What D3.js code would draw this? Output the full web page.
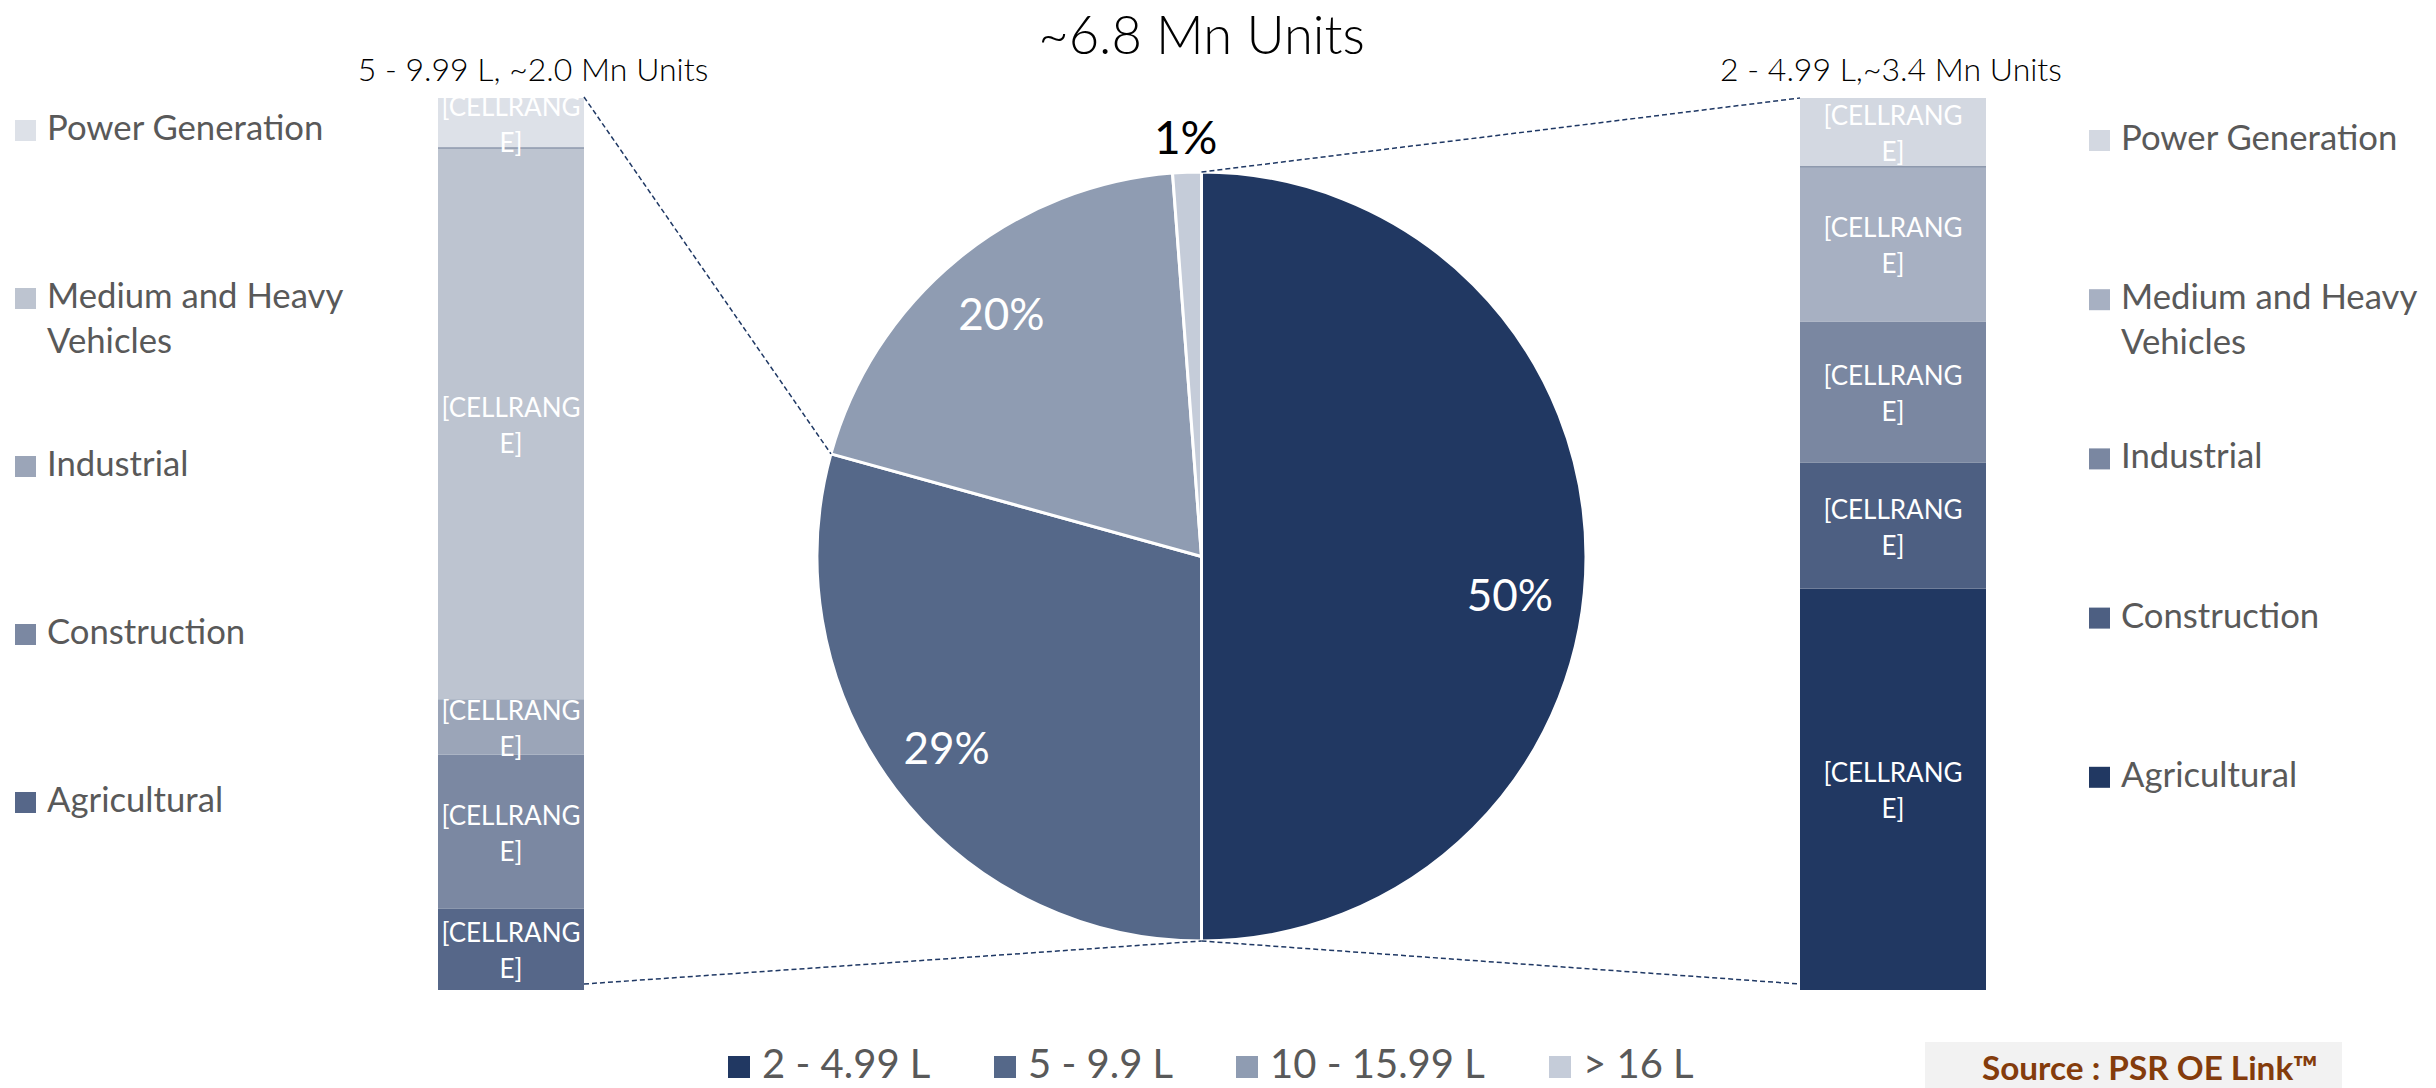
<!DOCTYPE html>
<html><head><meta charset="utf-8">
<script src="https://cdn.jsdelivr.net/npm/d3@7"></script>
<style>html,body{margin:0;padding:0;background:#fff;overflow:hidden}</style>
</head><body><svg id="c" width="2436" height="1088"></svg>
<script>
// ---- data ----
const title = "~6.8 Mn Units";
const sizeClasses = ["2 - 4.99 L", "5 - 9.9 L", "10 - 15.99 L", "> 16 L"];
const sizeShares = [50.0, 29.3, 19.5, 1.2];
const sizeColors = ["#213862", "#556889", "#8f9cb2", "#c5ccd9"];
const applications = ["Agricultural", "Construction", "Industrial", "Medium and Heavy Vehicles", "Power Generation"];
const leftTitle = "5 - 9.99 L, ~2.0 Mn Units";
const leftShares = [9.1, 17.3, 6.2, 61.8, 5.6];
const leftColors = ["#566789", "#7b88a2", "#9ba5b8", "#bdc4d0", "#dde1e8"];
const rightTitle = "2 - 4.99 L,~3.4 Mn Units";
const rightShares = [45.0, 14.1, 15.8, 17.4, 7.7];
const rightColors = ["#213862", "#4d5f82", "#7a87a1", "#a7b0c2", "#d3d8e1"];
const barLabelLines = ["[CELLRANG", "E]"];
const sourceText = "Source : PSR OE Link\u2122";

// ---- setup ----
const svg = d3.select("#c");
svg.append("rect").attr("width", 2436).attr("height", 1088).attr("fill", "#fff");
const geo = "Lato, 'Open Sans', sans-serif";
const cal = "Lato, 'Open Sans', sans-serif";
const navy = "#1f3864";

// ---- pie ----
const cx = 1201.5, cy = 556.5, r = 384.5;
const arcs = d3.pie().sort(null).value(d => d)(sizeShares);
const arcGen = d3.arc().innerRadius(0).outerRadius(r);
const pg = svg.append("g").attr("transform", `translate(${cx},${cy})`);
pg.selectAll("path").data(arcs).join("path")
  .attr("d", arcGen).attr("fill", (d, i) => sizeColors[i])
  .attr("stroke", "#fff").attr("stroke-width", 3).attr("stroke-linejoin", "round");
const inLabel = d3.arc().innerRadius(r * 0.82).outerRadius(r * 0.82);
const outLabel = d3.arc().innerRadius(r + 36).outerRadius(r + 36);
const labelNudge = [[-7, 37], [-4, 0], [0, 0], [0, 0]];
pg.selectAll("text.pl").data(arcs).join("text").attr("class", "pl")
  .each(function (d, i) {
    const small = d.data < 5;
    const c = (small ? outLabel : inLabel).centroid(d);
    d3.select(this).attr("x", c[0] + labelNudge[i][0]).attr("y", c[1] + labelNudge[i][1])
      .attr("text-anchor", "middle").attr("dominant-baseline", "central")
      .attr("font-family", small ? geo : cal).attr("font-size", small ? 46 : 44)
      .attr("font-weight", 400)
      .attr("fill", small ? "#000" : "#fff")
      .text(Math.round(d.data) + "%");
  });

// ---- bars ----
const yS = d3.scaleLinear().domain([0, 100]).range([990, 98]);
function drawBar(shares, colors, x0, x1) {
  const stack = [];
  let acc = 0;
  shares.forEach((v, i) => { stack.push({ v, i, y0: acc, y1: acc + v }); acc += v; });
  const g = svg.append("g");
  g.selectAll("rect").data(stack).join("rect")
    .attr("x", x0).attr("width", x1 - x0)
    .attr("y", d => yS(d.y1)).attr("height", d => yS(d.y0) - yS(d.y1))
    .attr("fill", d => colors[d.i]);
  const top = stack[stack.length - 1];
  g.append("line").attr("x1", x0).attr("x2", x1).attr("y1", yS(top.y0)).attr("y2", yS(top.y0))
    .attr("stroke", "#8e99ad").attr("stroke-width", 1.5);
  const xc = (x0 + x1) / 2;
  stack.forEach(d => {
    const ym = (yS(d.y0) + yS(d.y1)) / 2;
    barLabelLines.forEach((t, k) => {
      g.append("text").attr("x", xc).attr("y", ym - 7 + k * 36)
        .attr("text-anchor", "middle").attr("font-family", cal).attr("font-size", 26)
        .attr("fill", "#fff").text(t);
    });
  });
}
drawBar(leftShares, leftColors, 438, 584);
drawBar(rightShares, rightColors, 1800, 1986);

// ---- connectors ----
const pt = a => [cx + r * Math.sin(a), cy - r * Math.cos(a)];
const conn = [
  [[584, yS(100) - 1], pt(arcs[1].endAngle)],
  [[584, yS(0) - 6], pt(arcs[0].endAngle)],
  [pt(0), [1800, yS(100)]],
  [pt(arcs[0].endAngle), [1800, yS(0) - 6]]
];
svg.selectAll("line.conn").data(conn).join("line").attr("class", "conn")
  .attr("x1", d => d[0][0]).attr("y1", d => d[0][1])
  .attr("x2", d => d[1][0]).attr("y2", d => d[1][1])
  .attr("stroke", navy).attr("stroke-width", 1.5).attr("stroke-dasharray", "5,3");

// ---- titles ----
svg.append("text").attr("x", cx).attr("y", 54).attr("text-anchor", "middle")
  .attr("font-family", geo).attr("font-weight", 300).attr("font-size", 52.5).attr("fill", "#000").text(title);
svg.append("text").attr("x", 533).attr("y", 81).attr("text-anchor", "middle")
  .attr("font-family", geo).attr("font-weight", 300).attr("font-size", 32).attr("fill", "#000").text(leftTitle);
svg.append("text").attr("x", 1891).attr("y", 81).attr("text-anchor", "middle")
  .attr("font-family", geo).attr("font-weight", 300).attr("font-size", 32).attr("fill", "#000").text(rightTitle);

// ---- side legends ----
function sideLegend(colors, xSq, yTop, step) {
  const order = d3.range(applications.length).reverse();
  order.forEach((idx, k) => {
    const y = yTop + k * step;
    svg.append("rect").attr("x", xSq).attr("y", y).attr("width", 21).attr("height", 21).attr("fill", colors[idx]);
    const name = applications[idx];
    const lines = name.length > 20 ? [name.slice(0, name.lastIndexOf(" ")), name.slice(name.lastIndexOf(" ") + 1)] : [name];
    lines.forEach((t, j) => {
      svg.append("text").attr("x", xSq + 32).attr("y", y + 20 + j * 45)
        .attr("font-family", cal).attr("font-size", 34.7).attr("fill", "#595959").text(t);
    });
  });
}
sideLegend(leftColors, 15, 120, 168);
sideLegend(rightColors, 2089, 130, 159.2);

// ---- bottom legend ----
const bottomLegendX = [728, 994, 1236, 1549];
sizeClasses.forEach((name, i) => {
  const bx = bottomLegendX[i];
  svg.append("rect").attr("x", bx).attr("y", 1056).attr("width", 22).attr("height", 22).attr("fill", sizeColors[i]);
  svg.append("text").attr("x", bx + 34).attr("y", 1078)
    .attr("font-family", cal).attr("font-size", 40).attr("fill", "#595959").text(name);
});

// ---- source ----
svg.append("rect").attr("x", 1925).attr("y", 1042).attr("width", 417).attr("height", 60).attr("fill", "#f2f2f2");
svg.append("text").attr("x", 1982).attr("y", 1080).attr("font-family", geo).attr("font-weight", 700)
  .attr("font-size", 33.3).attr("fill", "#843c0c").text(sourceText);
</script></body></html>
